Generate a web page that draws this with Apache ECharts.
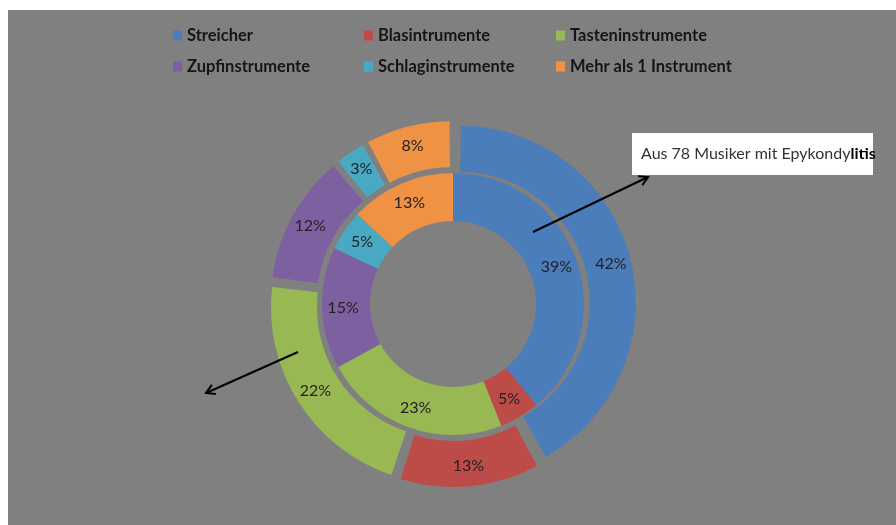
<!DOCTYPE html>
<html>
<head>
<meta charset="utf-8">
<script src="https://cdn.jsdelivr.net/npm/echarts@6/dist/echarts.min.js"></script>
<style>
html,body{margin:0;padding:0;background:#ffffff;}
#chart{width:896px;height:525px;}
</style>
</head>
<body>
<div id="chart"></div>
<script>
var categories = ['Streicher', 'Blasintrumente', 'Tasteninstrumente', 'Zupfinstrumente', 'Schlaginstrumente', 'Mehr als 1 Instrument'];
var innerValues = [39, 5, 23, 15, 5, 13];
var outerValues = [42, 13, 22, 12, 3, 8];
var colors = ['#4a7dba', '#bd4b48', '#97b853', '#7d60a0', '#49a9c3', '#ef9244'];
var annotationText = 'Aus 78 Musiker mit Epykondy';
var annotationBold = 'litis';

var chart = echarts.init(document.getElementById('chart'), null, {renderer: 'canvas'});

function buildData(values, exploded) {
  return categories.map(function (name, i) {
    return {name: name, value: values[i], selected: exploded, itemStyle: {color: colors[i]}};
  });
}

var labelStyle = {
  show: true,
  position: 'inside',
  fontFamily: 'Lato',
  fontSize: 16,
  color: '#222222',
  formatter: function (p) { return p.value + '%'; }
};

function legendCol(names, left) {
  return {
    orient: 'vertical',
    left: left,
    top: 26,
    padding: 0,
    itemGap: 12,
    itemWidth: 9,
    itemHeight: 10,
    icon: 'rect',
    selectedMode: false,
    data: names,
    textStyle: {fontFamily: 'Lato', fontWeight: 'bold', fontSize: 16.5, color: '#151515', lineHeight: 19}
  };
}

var option = {
  animation: false,
  backgroundColor: '#ffffff',
  color: colors,
  legend: [
    legendCol([categories[0], categories[3]], 173),
    legendCol([categories[1], categories[4]], 364),
    legendCol([categories[2], categories[5]], 556)
  ],
  series: [
    {
      type: 'pie',
      name: 'inner',
      center: [453, 304],
      radius: [83, 131],
      startAngle: 90,
      clockwise: true,
      selectedMode: false,
      label: labelStyle,
      labelLine: {show: false},
      emphasis: {disabled: true},
      itemStyle: {borderWidth: 0},
      data: buildData(innerValues, false)
    },
    {
      type: 'pie',
      name: 'outer',
      center: [453, 304],
      radius: [131, 177],
      startAngle: 90,
      clockwise: true,
      padAngle: 1.3,
      selectedMode: 'multiple',
      selectedOffset: 6,
      label: labelStyle,
      labelLine: {show: false},
      emphasis: {disabled: true},
      itemStyle: {borderWidth: 0},
      data: buildData(outerValues, true)
    }
  ],
  graphic: [
    {type: 'rect', z: -10, silent: true, shape: {x: 8, y: 10, width: 888, height: 515}, style: {fill: '#808080'}},
    {type: 'rect', z: 100, shape: {x: 632, y: 133, width: 241, height: 42}, style: {fill: '#ffffff'}},
    {type: 'text', z: 101, x: 641, y: 154,
      style: {
        text: '{a|' + annotationText + '}{b|' + annotationBold + '}',
        verticalAlign: 'middle',
        rich: {
          a: {fontFamily: 'Lato', fontSize: 16, fill: '#333333'},
          b: {fontFamily: 'Lato', fontSize: 16, fontWeight: 'bold', fill: '#000000'}
        }
      }
    },
    {type: 'line', z: 100, shape: {x1: 533, y1: 232, x2: 648, y2: 177}, style: {stroke: '#000000', lineWidth: 2}},
    {type: 'polyline', z: 100, shape: {points: [[638, 176.2], [648, 177], [642.3, 185.2]]}, style: {stroke: '#000000', lineWidth: 2, fill: null}},
    {type: 'line', z: 100, shape: {x1: 298, y1: 352, x2: 206, y2: 393}, style: {stroke: '#000000', lineWidth: 2}},
    {type: 'polyline', z: 100, shape: {points: [[216, 394], [206, 393], [211.9, 384.9]]}, style: {stroke: '#000000', lineWidth: 2, fill: null}}
  ]
};
chart.setOption(option);
</script>
</body>
</html>
